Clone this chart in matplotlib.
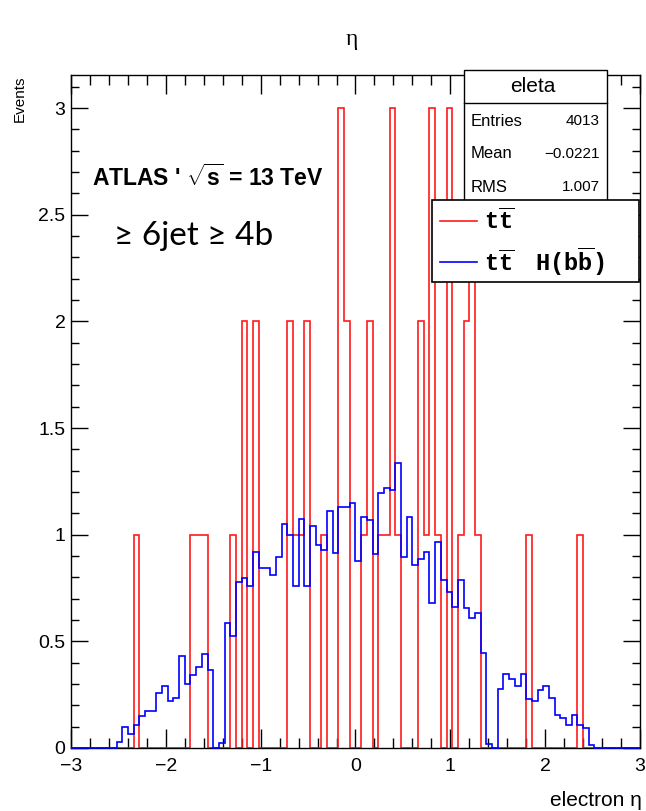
import numpy as np
import matplotlib
matplotlib.use('Agg')
import matplotlib.pyplot as plt
from matplotlib.patches import Rectangle
from matplotlib.lines import Line2D

plt.rcParams['font.family'] = ['Liberation Sans', 'DejaVu Sans']
plt.rcParams['mathtext.fontset'] = 'custom'
plt.rcParams['mathtext.rm'] = 'Liberation Sans'
plt.rcParams['mathtext.bf'] = 'Liberation Sans:bold'
plt.rcParams['mathtext.tt'] = 'Liberation Mono:bold'

# 100 bins from -3 to 3
x_lo, x_hi, n_bins = -3.0, 3.0, 100

# ttbar (red), integer counts per bin
tt_counts = [
    0, 0, 0, 0, 0, 0, 0, 0, 0, 0,
    0, 1, 0, 0, 0, 0, 0, 0, 0, 0,
    0, 1, 1, 1, 0, 0, 0, 0, 1, 0,
    2, 0, 2, 0, 0, 0, 0, 0, 2, 1,
    1, 2, 0, 0, 1, 0, 0, 3, 2, 0,
    0, 1, 2, 0, 1, 1, 3, 1, 0, 0,
    0, 2, 1, 3, 1, 0, 3, 0, 1, 2,
    3, 1, 0, 0, 0, 0, 0, 0, 0, 0,
    1, 0, 0, 0, 0, 0, 0, 0, 0, 1,
    0, 0, 0, 0, 0, 0, 0, 0, 0, 0]

# ttH(bb) (blue), scaled
tth_counts = [
    0, 0, 0, 0, 0, 0, 0, 0, 0.03, 0.10,
    0.065, 0.11, 0.15, 0.175, 0.175, 0.26, 0.29, 0.222, 0.234, 0.43,
    0.30, 0.34, 0.38, 0.44, 0.368, 0, 0.025, 0.588, 0.525, 0.78,
    0.795, 0.76, 0.918, 0.845, 0.845, 0.81, 0.895, 1.05, 1.0, 0.76,
    1.075, 0.76, 1.04, 0.95, 0.93, 1.11, 0.915, 1.13, 1.13, 1.15,
    0.875, 1.085, 1.07, 0.91, 1.195, 1.22, 1.21, 1.335, 0.897, 1.084,
    0.86, 0.884, 0.92, 0.68, 0.968, 0.786, 0.73, 0.66, 0.786, 0.654,
    0.608, 0.633, 0.446, 0.02, 0, 0.278, 0.348, 0.325, 0.29, 0.348,
    0.232, 0.218, 0.273, 0.29, 0.235, 0.157, 0.142, 0.106, 0.157, 0.106,
    0.092, 0.015, 0, 0, 0, 0, 0, 0, 0, 0]

stat_names = ['Entries', 'Mean', 'RMS']
stat_values = ['4013', '\u22120.0221', '1.007']
legend_labels = [r'$\mathtt{t\overline{t}}$', r'$\mathtt{t\overline{t}\ \ \ H(b\overline{b})}$']

W, H = 646, 811
fig = plt.figure(figsize=(W / 100, H / 100), dpi=100)

def fx(px):
    return px / W

def fy(py):
    return 1 - py / H

ax = fig.add_axes([fx(71), fy(748), fx(640) - fx(71), fy(75) - fy(748)])

edges = np.linspace(x_lo, x_hi, n_bins + 1)
ax.stairs(tt_counts, edges, color='#ff1a1a', lw=1.2, zorder=2)
ax.stairs(tth_counts, edges, color='#0000ff', lw=1.2, zorder=3, clip_on=False)

ax.set_xlim(-3, 3)
ax.set_ylim(0, 3.155)
ax.set_xticks(np.arange(-3, 3.01, 1))
ax.set_xticks(np.arange(-3, 3.01, 0.2), minor=True)
ax.set_yticks([0, 0.5, 1, 1.5, 2, 2.5, 3])
ax.set_yticks(np.arange(0, 3.15, 0.1), minor=True)
ax.set_xticklabels(['\u22123', '\u22122', '\u22121', '0', '1', '2', '3'])
ax.set_yticklabels(['0', '0.5', '1', '1.5', '2', '2.5', '3'])
ax.tick_params(axis='both', which='both', direction='in', top=True, right=True,
               width=1, labelsize=14, color='black')
ax.tick_params(axis='x', which='major', length=14, pad=7)
ax.tick_params(axis='x', which='minor', length=7)
ax.tick_params(axis='y', which='major', length=12, pad=4)
ax.tick_params(axis='y', which='minor', length=6)
for s in ax.spines.values():
    s.set_linewidth(1.0)

# titles and axis labels
fig.text(fx(352), fy(40), '\u03b7', fontsize=17, family='Liberation Serif',
         ha='center', va='center')
fig.text(fx(20), fy(75), 'Events', fontsize=11, rotation=90, ha='center', va='top')
fig.text(fx(642), fy(800), 'electron \u03b7', fontsize=15, ha='right', va='center')

# annotation texts
fig.text(fx(92), fy(178), "ATLAS ' $\\sqrt{\\mathbf{s}}$ = 13 TeV", fontsize=16.5,
         fontweight='bold', ha='left', va='center')
fig.text(fx(114), fy(236), '\u2265 6jet \u2265 4b', fontsize=24, family='Lato',
         ha='left', va='center')

# stats box
fig.patches.append(Rectangle((fx(464), fy(206)), fx(607) - fx(464), fy(70) - fy(206),
                             transform=fig.transFigure, facecolor='white',
                             edgecolor='black', lw=1.0, zorder=5))
fig.lines.append(Line2D([fx(464), fx(607)], [fy(103), fy(103)],
                        transform=fig.transFigure, color='black', lw=1.0, zorder=6))
fig.text(fx(533), fy(87), 'eleta', fontsize=15, ha='center', va='center', zorder=6)
for k in range(len(stat_names)):
    yy = 121 + 33 * k
    fig.text(fx(471), fy(yy), stat_names[k], fontsize=12, ha='left', va='center', zorder=6)
    fig.text(fx(600), fy(yy), stat_values[k], fontsize=11, ha='right', va='center', zorder=6)

# legend box
fig.patches.append(Rectangle((fx(432), fy(282)), fx(639) - fx(432), fy(200) - fy(282),
                             transform=fig.transFigure, facecolor='white',
                             edgecolor='black', lw=1.2, zorder=7))
leg_colors = ['#ff1a1a', '#0000ff']
leg_y = [221, 262]
for k in range(2):
    fig.lines.append(Line2D([fx(440), fx(477)], [fy(leg_y[k]), fy(leg_y[k])],
                            transform=fig.transFigure, color=leg_colors[k], lw=1.2, zorder=8))
    fig.text(fx(484), fy(leg_y[k]), legend_labels[k], fontsize=17, ha='left',
             va='center', zorder=8)

fig.savefig('out.png', dpi=100, facecolor='white')
